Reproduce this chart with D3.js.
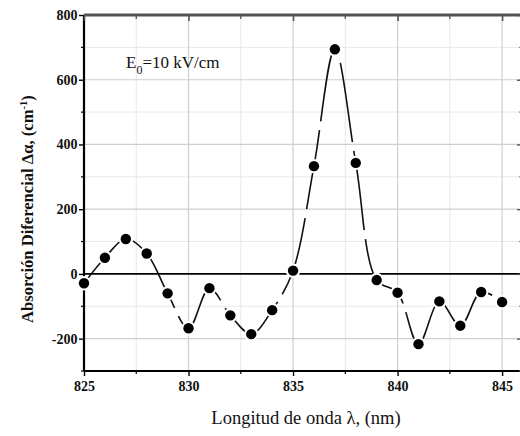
<!DOCTYPE html>
<html>
<head>
<meta charset="utf-8">
<script src="https://cdn.jsdelivr.net/npm/d3@7"></script>
<style>
  body { margin: 0; background: #fff; }
  svg { display: block; font-family: "Liberation Serif", "DejaVu Serif", serif; }
</style>
</head>
<body>
<div id="chart"></div>
<script>
// wavelength (nm) and differential absorption (cm^-1)
var wavelengths = [825, 826, 827, 828, 829, 830, 831, 832, 833, 834, 835,
                   836, 837, 838, 839, 840, 841, 842, 843, 844, 845];
var absorption = [-29, 50, 108, 63, -60, -168, -44, -128, -186, -112, 10,
                  333, 694, 343, -19, -58, -217, -85, -160, -56, -87];
var xTicks = [825, 830, 835, 840, 845];
var yTicks = [-200, 0, 200, 400, 600, 800];

var width = 520, height = 436;
// plot box (window.top is read-only, so no "top" here)
var plotL = 84, plotR = 523, plotT = 15, plotB = 371;

var svg = d3.select("#chart").append("svg")
  .attr("width", width)
  .attr("height", height);

var x = d3.scaleLinear().domain([825, 846]).range([plotL, plotR]);
var y = d3.scaleLinear().domain([-300, 800]).range([plotB, plotT]);

var points = wavelengths.map(function(w, i) { return [w, absorption[i]]; });

// grid: minor first, then major
var minorX = d3.range(827.5, 846, 5);
var minorY = d3.range(-300, 801, 100).filter(function(v) { return v % 200 != 0; });

svg.append("g").selectAll("line").data(minorX).join("line")
  .attr("x1", d => x(d)).attr("x2", d => x(d))
  .attr("y1", plotT).attr("y2", plotB)
  .attr("stroke", "#e8e8e8").attr("stroke-width", 1);
svg.append("g").selectAll("line").data(minorY).join("line")
  .attr("x1", plotL).attr("x2", plotR)
  .attr("y1", d => y(d)).attr("y2", d => y(d))
  .attr("stroke", "#e8e8e8").attr("stroke-width", 1);
svg.append("g").selectAll("line").data(xTicks.slice(1)).join("line")
  .attr("x1", d => x(d)).attr("x2", d => x(d))
  .attr("y1", plotT).attr("y2", plotB)
  .attr("stroke", "#cfcfcf").attr("stroke-width", 1.2);
svg.append("g").selectAll("line").data(yTicks.filter(d => d != 0 && d != 800)).join("line")
  .attr("x1", plotL).attr("x2", plotR)
  .attr("y1", d => y(d)).attr("y2", d => y(d))
  .attr("stroke", "#cfcfcf").attr("stroke-width", 1.2);

// zero line
svg.append("line")
  .attr("x1", plotL).attr("x2", plotR)
  .attr("y1", y(0)).attr("y2", y(0))
  .attr("stroke", "#000").attr("stroke-width", 1.6);

// axes -- plain hyphen for negatives, like the original
var plain = function(d) { return String(d); };
var xAxis = d3.axisBottom(x).tickValues(xTicks).tickSize(5).tickFormat(plain);
var gx = svg.append("g").attr("transform", "translate(0," + plotB + ")").call(xAxis);
var yAxis = d3.axisLeft(y).tickValues(yTicks).tickSize(5).tickFormat(plain);
var gy = svg.append("g").attr("transform", "translate(" + plotL + ",0)").call(yAxis);

// minor ticks
gx.selectAll(".minor").data(minorX).join("line").attr("class", "minor")
  .attr("x1", d => x(d)).attr("x2", d => x(d)).attr("y1", 0).attr("y2", 3)
  .attr("stroke", "#000").attr("stroke-width", 1.2);
gy.selectAll(".minor").data(minorY).join("line").attr("class", "minor")
  .attr("x1", -3).attr("x2", 0).attr("y1", d => y(d)).attr("y2", d => y(d))
  .attr("stroke", "#000").attr("stroke-width", 1.2);

[gx, gy].forEach(function(g) {
  g.select(".domain").attr("stroke", "#000").attr("stroke-width", 2.2);
  g.selectAll(".tick line").attr("stroke", "#000").attr("stroke-width", 1.4);
  g.selectAll(".tick text")
    .attr("fill", "#111")
    .style("font-family", "'Liberation Serif', serif")
    .style("font-weight", "bold")
    .style("font-size", "14px");
});
gx.selectAll(".tick text").attr("dy", "0.85em");
gy.selectAll(".tick text").attr("dx", "0.1em");
gy.select(".domain").attr("d", "M0," + plotT + "V" + plotB);
gx.select(".domain").attr("d", "M" + plotL + ",0H" + plotR);

// top axis, ticks pointing in
var topAxis = d3.axisTop(x).tickValues(xTicks).tickSize(-6).tickFormat("");
var gt = svg.append("g").attr("transform", "translate(0," + plotT + ")").call(topAxis);
gt.select(".domain").attr("d", "M" + plotL + ",0H" + plotR).attr("stroke", "#555").attr("stroke-width", 3);
gt.selectAll(".tick line").attr("stroke", "#555").attr("stroke-width", 1.6);
gt.selectAll(".minor").data(minorX).join("line").attr("class", "minor")
  .attr("x1", d => x(d)).attr("x2", d => x(d)).attr("y1", 0).attr("y2", 4)
  .attr("stroke", "#555").attr("stroke-width", 1.3);

// right axis, ticks pointing in
var rightAxis = d3.axisRight(y).tickValues(yTicks).tickSize(-6).tickFormat("");
var gr = svg.append("g").attr("transform", "translate(" + plotR + ",0)").call(rightAxis);
gr.select(".domain").attr("d", "M0," + plotT + "V" + plotB).attr("stroke", "#555").attr("stroke-width", 2.2);
gr.selectAll(".tick line").attr("stroke", "#555").attr("stroke-width", 1.4);
gr.selectAll(".minor").data(minorY).join("line").attr("class", "minor")
  .attr("x1", -4).attr("x2", 0).attr("y1", d => y(d)).attr("y2", d => y(d))
  .attr("stroke", "#777").attr("stroke-width", 1);

// data curve, dashed spline
var line = d3.line()
  .x(d => x(d[0]))
  .y(d => y(d[1]))
  .curve(d3.curveCatmullRom.alpha(0.5));

svg.append("path")
  .datum(points)
  .attr("d", line)
  .attr("fill", "none")
  .attr("stroke", "#111")
  .attr("stroke-width", 1.6)
  .attr("stroke-dasharray", "80,9")
  .attr("stroke-dashoffset", 20);

// markers with a white halo so the line stops short of them
svg.append("g").selectAll("circle").data(points).join("circle")
  .attr("cx", d => x(d[0]))
  .attr("cy", d => y(d[1]))
  .attr("r", 5.2)
  .attr("fill", "#000")
  .attr("stroke", "#fff")
  .attr("stroke-width", 4)
  .attr("paint-order", "stroke");

// annotation
var note = svg.append("text")
  .attr("x", 126).attr("y", 68)
  .style("font-size", "17px")
  .attr("fill", "#111");
note.append("tspan").text("E");
note.append("tspan").attr("dy", 6).style("font-size", "12px").text("0");
note.append("tspan").attr("dy", -6).text("=10 kV/cm");

// axis titles
svg.append("text")
  .attr("x", 306).attr("y", 424)
  .attr("text-anchor", "middle")
  .style("font-size", "18.5px")
  .attr("fill", "#111")
  .text("Longitud de onda λ, (nm)");

var yt = svg.append("text")
  .attr("transform", "translate(33,323) rotate(-90)")
  .style("font-size", "16.6px")
  .style("font-weight", "bold")
  .attr("fill", "#111");
yt.append("tspan").text("Absorción Diferencial Δα, (cm");
yt.append("tspan").attr("dy", -6).style("font-size", "10.5px").text("-1");
yt.append("tspan").attr("dy", 6).text(")");
</script>
</body>
</html>
